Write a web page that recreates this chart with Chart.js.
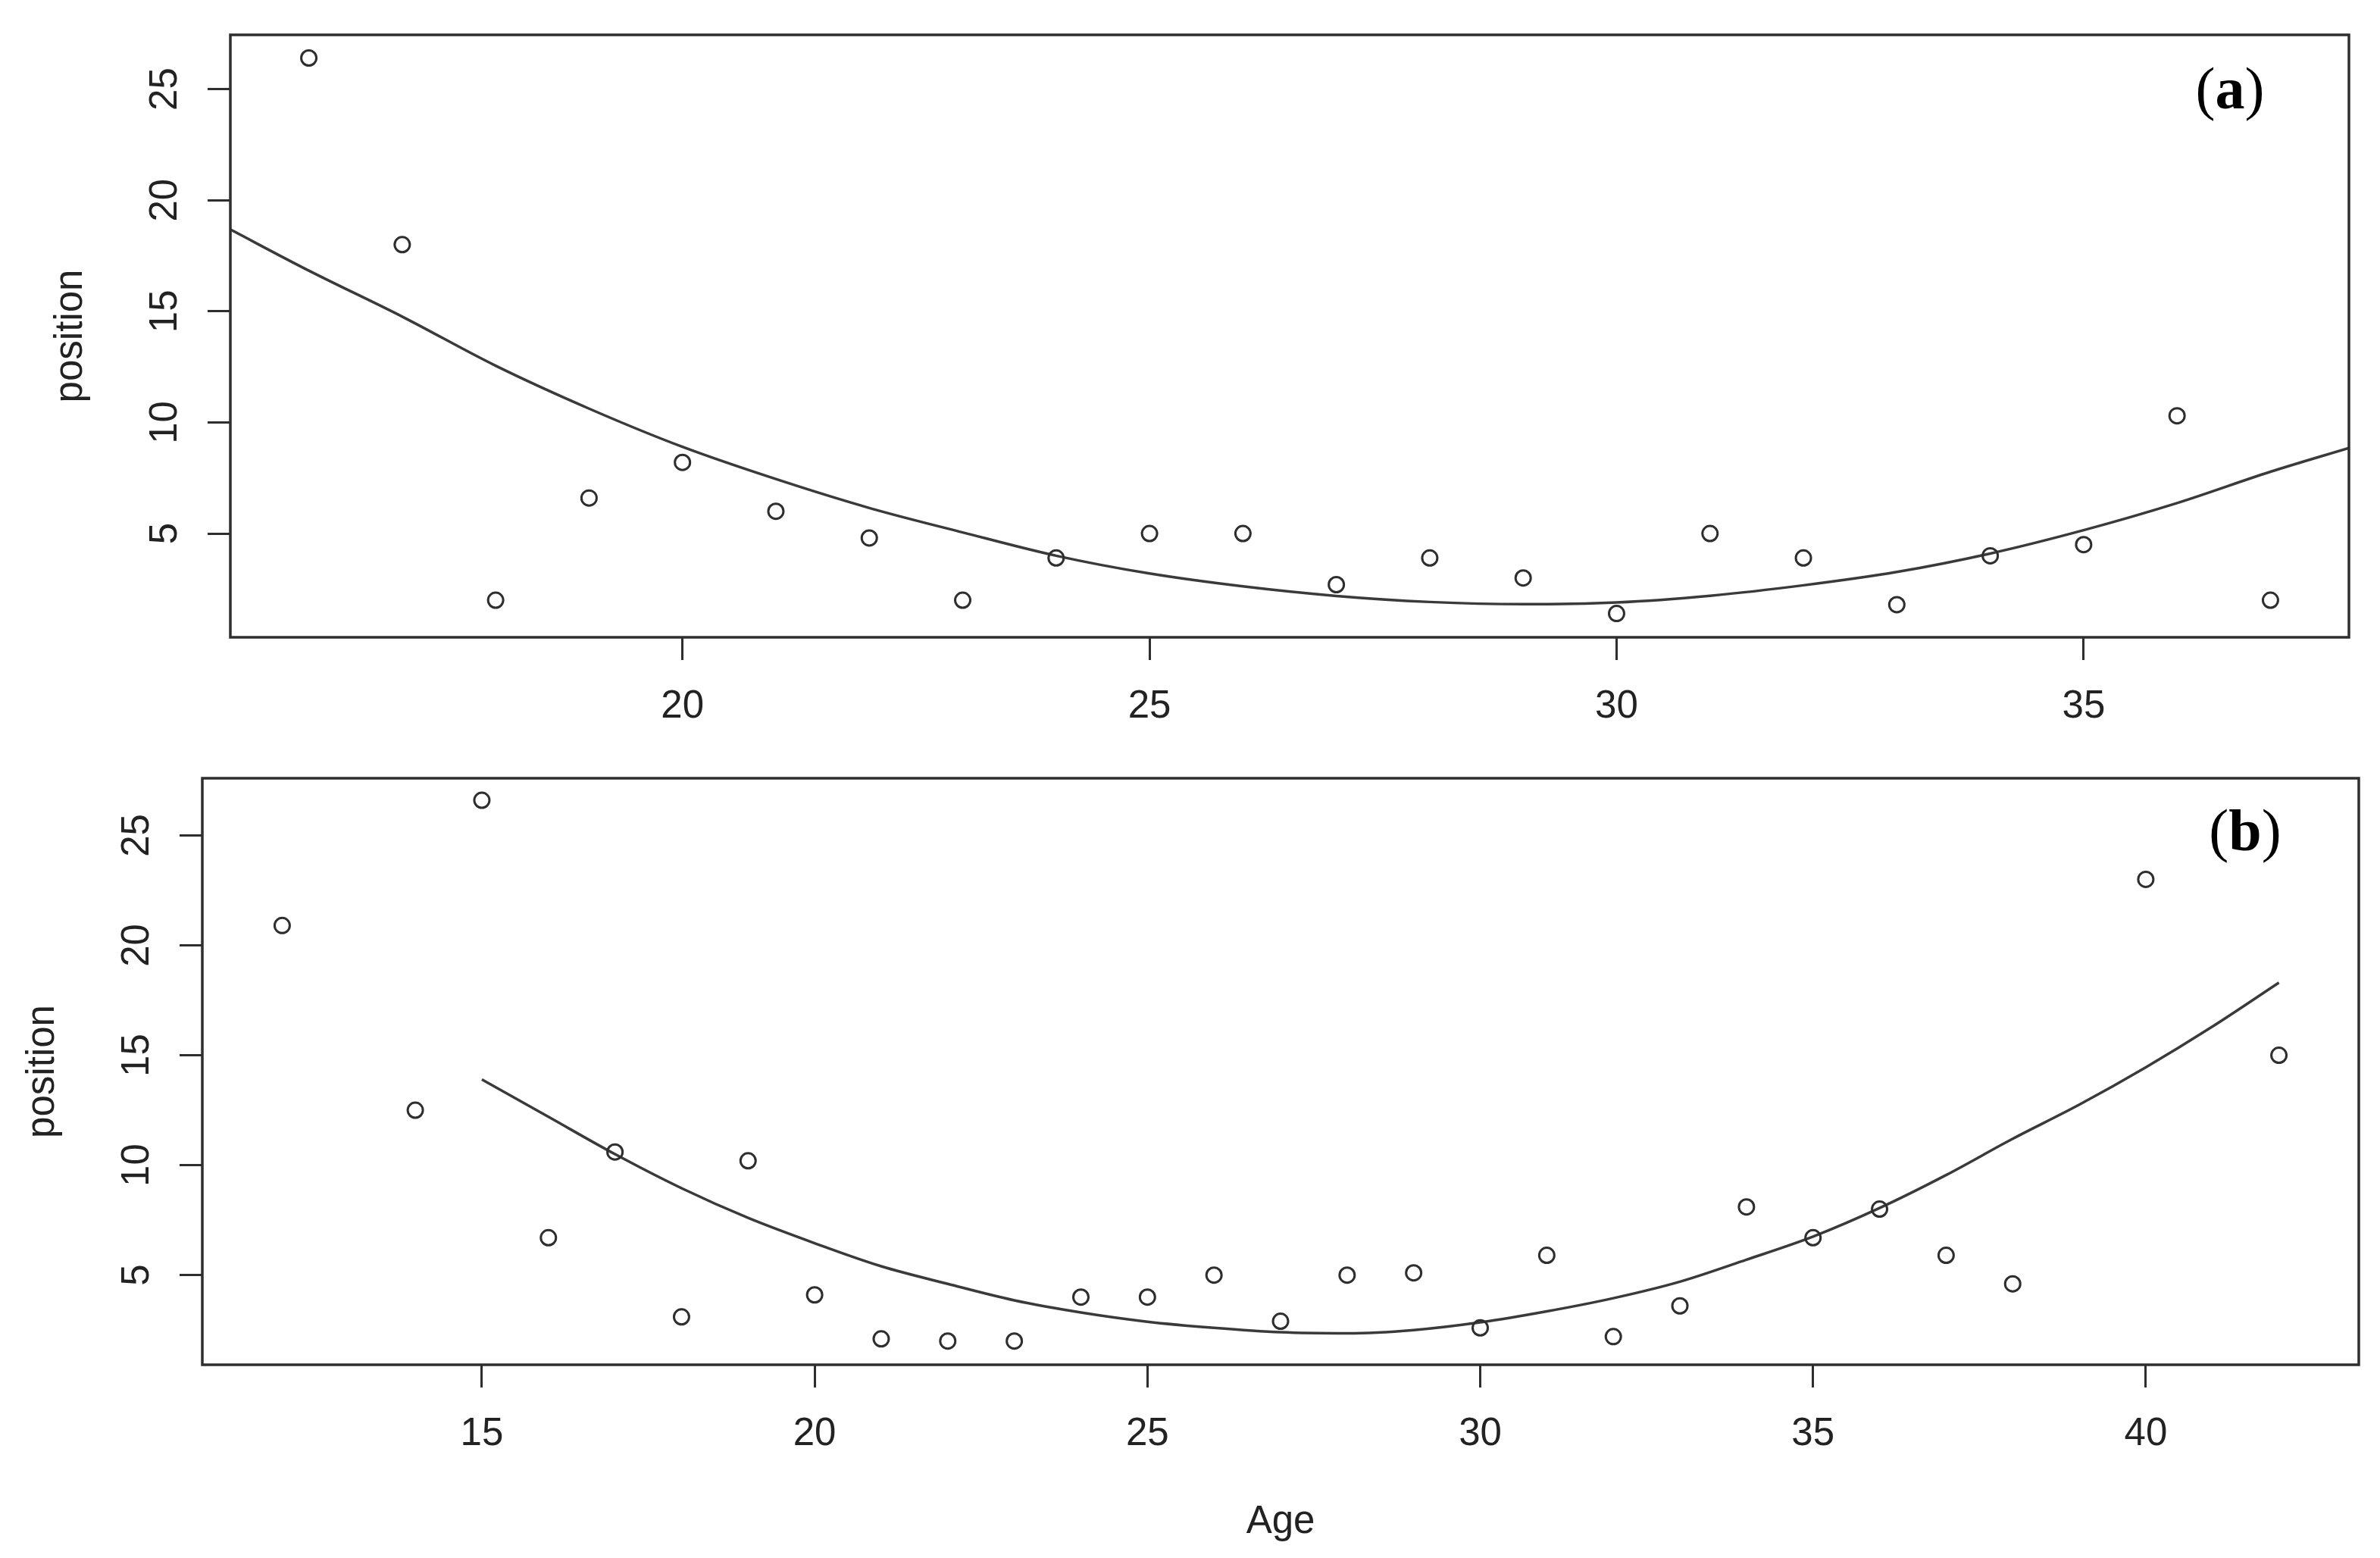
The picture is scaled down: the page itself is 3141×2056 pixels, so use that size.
<!DOCTYPE html>
<html>
<head>
<meta charset="utf-8">
<script src="https://cdn.jsdelivr.net/npm/chart.js@4.4.0/dist/chart.umd.min.js"></script>
<style>
  html, body { margin: 0; padding: 0; background: #fff; }
  .panel { position: absolute; left: 0; width: 3141px; }
</style>
</head>
<body>
<div class="panel" style="top:0; height:1000px;"><canvas id="chartA"></canvas></div>
<div class="panel" style="top:1000px; height:1056px;"><canvas id="chartB"></canvas></div>

<script>
// panel (a)
const ageA = [16, 17, 18, 19, 20, 21, 22, 23, 24, 25, 26, 27, 28, 29, 30, 31, 32, 33, 34, 35, 36, 37];
const posA = [26.4, 18.0, 2.0, 6.6, 8.2, 6.0, 4.8, 2.0, 3.9, 5.0, 5.0, 2.7, 3.9, 3.0, 1.4, 5.0, 3.9, 1.8, 4.0, 4.5, 10.3, 2.0];
const fitAgeA = [15.16, 16, 17, 18, 19, 20, 21, 22, 23, 24, 25, 26, 27, 28, 29, 30, 31, 32, 33, 34, 35, 36, 37, 37.84];
const fitPosA = [18.68, 16.83, 14.76, 12.55, 10.62, 8.9, 7.45, 6.15, 5.05, 4.0, 3.2, 2.62, 2.19, 1.92, 1.82, 1.9, 2.2, 2.67, 3.27, 4.1, 5.15, 6.37, 7.78, 8.85];
const xTicksA = [20, 25, 30, 35];
const yTicksA = [5, 10, 15, 20, 25];

// panel (b)
const ageB = [12, 14, 15, 16, 17, 18, 19, 20, 21, 22, 23, 24, 25, 26, 27, 28, 29, 30, 31, 32, 33, 34, 35, 36, 37, 38, 40, 42];
const posB = [20.9, 12.5, 26.6, 6.7, 10.6, 3.1, 10.2, 4.1, 2.1, 2.0, 2.0, 4.0, 4.0, 5.0, 2.9, 5.0, 5.1, 2.6, 5.9, 2.2, 3.6, 8.1, 6.7, 8.0, 5.9, 4.6, 23.0, 15.0];
const fitAgeB = [15, 16, 17, 18, 19, 20, 21, 22, 23, 24, 25, 26, 27, 28, 29, 30, 31, 32, 33, 34, 35, 36, 37, 38, 39, 40, 41, 42];
const fitPosB = [13.9, 12.2, 10.5, 8.95, 7.6, 6.45, 5.4, 4.6, 3.85, 3.3, 2.88, 2.6, 2.4, 2.35, 2.5, 2.85, 3.35, 3.95, 4.7, 5.7, 6.75, 8.05, 9.55, 11.2, 12.75, 14.45, 16.3, 18.3];
const xTicksB = [15, 20, 25, 30, 35, 40];
const yTicksB = [5, 10, 15, 20, 25];

const INK = '#2e2e2e';
const SANS = '"Liberation Sans", Arial, sans-serif';
const SERIF = '"Liberation Serif", "Times New Roman", serif';

const toXY = (xs, ys) => xs.map((x, i) => ({x: x, y: ys[i]}));

// R-style box, rotated y labels, axis titles and panel letter
const rFrame = {
    id: 'rFrame',
    afterDraw(chart, args, opts) {
        const {ctx, chartArea: a, scales: {x, y}} = chart;
        ctx.save();
        ctx.strokeStyle = INK;
        ctx.lineWidth = 3.5;
        ctx.strokeRect(a.left, a.top, a.right - a.left, a.bottom - a.top);

        ctx.fillStyle = '#222';
        ctx.font = '51px ' + SANS;
        ctx.textAlign = 'center';
        ctx.textBaseline = 'alphabetic';
        x.ticks.forEach(t => ctx.fillText(String(t.value), x.getPixelForValue(t.value), a.bottom + 106));
        y.ticks.forEach(t => {
            ctx.save();
            ctx.translate(a.left - 71, y.getPixelForValue(t.value));
            ctx.rotate(-Math.PI / 2);
            ctx.fillText(String(t.value), 0, 0);
            ctx.restore();
        });

        ctx.save();
        ctx.translate(a.left - 196, (a.top + a.bottom) / 2);
        ctx.rotate(-Math.PI / 2);
        ctx.fillText('position', 0, 0);
        ctx.restore();

        if (opts.xTitle) {
            ctx.fillText(opts.xTitle, (a.left + a.right) / 2, a.bottom + 222);
        }

        // "(a)" with bold letter
        ctx.font = '78px ' + SERIF;
        const wParen = ctx.measureText('(').width;
        ctx.font = 'bold 78px ' + SERIF;
        const wLetter = ctx.measureText(opts.letter).width;
        const total = wParen * 2 + wLetter;
        let lx = a.right - opts.letterDx - total / 2;
        const ly = a.top + opts.letterDy;
        ctx.fillStyle = '#000';
        ctx.textAlign = 'left';
        ctx.font = '78px ' + SERIF;
        ctx.fillText('(', lx, ly);
        ctx.font = 'bold 78px ' + SERIF;
        ctx.fillText(opts.letter, lx + wParen, ly);
        ctx.font = '78px ' + SERIF;
        ctx.fillText(')', lx + wParen + wLetter, ly);
        ctx.restore();
    }
};

const makeChart = (id, cfg) => {
    return new Chart(document.getElementById(id), {
        type: 'scatter',
        data: {
            datasets: [{
                data: toXY(cfg.ages, cfg.pos),
                pointRadius: 10,
                pointBorderWidth: 3,
                pointBorderColor: INK,
                pointBackgroundColor: 'rgba(0,0,0,0)',
            }, {
                data: toXY(cfg.fitAges, cfg.fitPos),
                showLine: true,
                pointRadius: 0,
                borderColor: '#3a3a3a',
                borderWidth: 3.5,
                cubicInterpolationMode: 'monotone',
            }],
        },
        options: {
            responsive: true,
            maintainAspectRatio: false,
            animation: false,
            layout: { padding: cfg.padding },
            scales: {
                x: {
                    type: 'linear',
                    min: cfg.xMin,
                    max: cfg.xMax,
                    afterBuildTicks: s => { s.ticks = cfg.xTicks.map(v => ({value: v})); },
                    afterFit: s => { s.height = cfg.xHeight; },
                    ticks: { display: false },
                    border: { display: false },
                    grid: { drawOnChartArea: false, drawTicks: true, tickLength: 30, tickWidth: 3, tickColor: INK },
                },
                y: {
                    type: 'linear',
                    min: cfg.yMin,
                    max: cfg.yMax,
                    afterBuildTicks: s => { s.ticks = cfg.yTicks.map(v => ({value: v})); },
                    afterFit: s => { s.width = cfg.yWidth; },
                    ticks: { display: false },
                    border: { display: false },
                    grid: { drawOnChartArea: false, drawTicks: true, tickLength: 30, tickWidth: 3, tickColor: INK },
                },
            },
            plugins: {
                legend: { display: false },
                tooltip: { enabled: false },
                rFrame: cfg.frame,
            },
        },
        plugins: [rFrame],
    });
};

makeChart('chartA', {
    ages: ageA, pos: posA, fitAges: fitAgeA, fitPos: fitPosA,
    xTicks: xTicksA, yTicks: yTicksA,
    xMin: 15.16, xMax: 37.84, yMin: 0.33, yMax: 27.44,
    padding: { top: 46, right: 41, left: 0, bottom: 0 },
    yWidth: 304, xHeight: 159,
    frame: { letter: 'a', letterDx: 157, letterDy: 97, xTitle: '' },
});

makeChart('chartB', {
    ages: ageB, pos: posB, fitAges: fitAgeB, fitPos: fitPosB,
    xTicks: xTicksB, yTicks: yTicksB,
    xMin: 10.8, xMax: 43.2, yMin: 0.92, yMax: 27.6,
    padding: { top: 27, right: 28, left: 0, bottom: 0 },
    yWidth: 267, xHeight: 255,
    frame: { letter: 'b', letterDx: 150, letterDy: 95, xTitle: 'Age' },
});
</script>
</body>
</html>
